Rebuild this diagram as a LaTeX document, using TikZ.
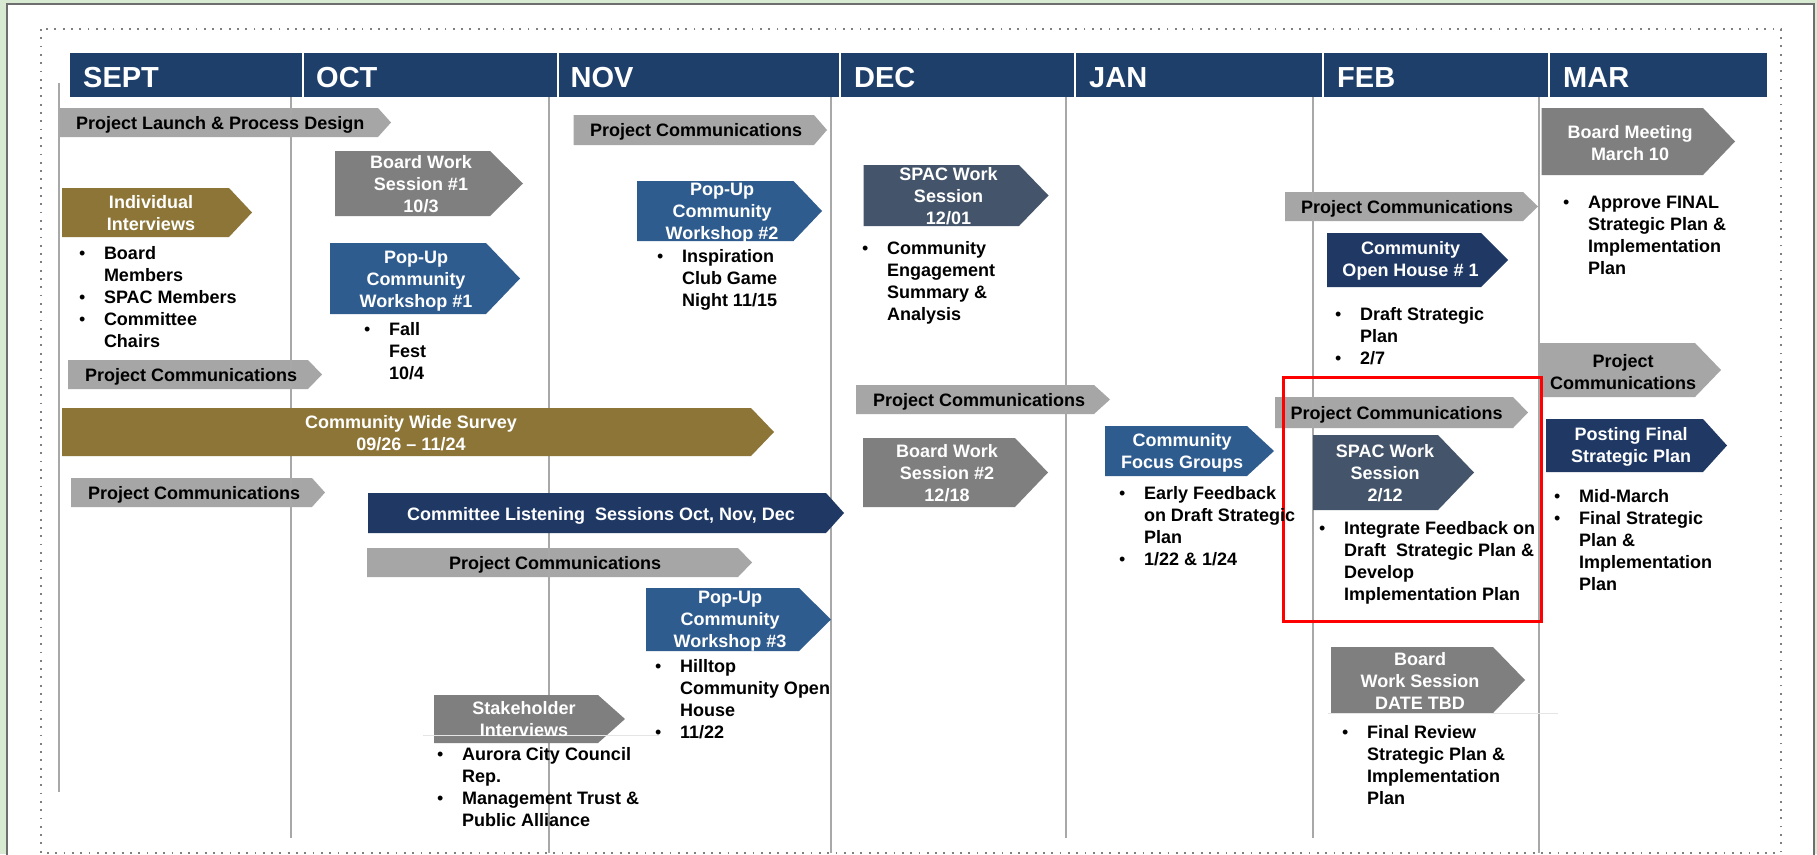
\documentclass[tikz,border=0pt]{standalone}
\usepackage{fontspec}
\setmainfont{Liberation Sans}
\usepackage{array}
\usepackage{color}
\definecolor{hdrblue}{HTML}{1F3F6B}
\definecolor{pcgray}{HTML}{A6A6A6}
\definecolor{bdgray}{HTML}{7F7F7F}
\definecolor{gold}{HTML}{8C7537}
\definecolor{popblue}{HTML}{2F5C8F}
\definecolor{navy}{HTML}{1F3864}
\definecolor{slate}{HTML}{44546A}
\definecolor{rulegray}{HTML}{A8A8A8}
\definecolor{framegreen}{HTML}{D9EAD3}
\definecolor{framegray}{HTML}{6E6E6E}
\definecolor{dotgray}{HTML}{808080}

\begin{document}
\begin{tikzpicture}
	[x=1pt,y=-1pt,
	lbl/.style={font=\fontsize{18}{22}\selectfont\bfseries,inner sep=0pt},
	tag/.style={lbl,anchor=base west},
	boxtext/.style={lbl,text=white,align=center},
	notes/.style={lbl,anchor=north west},
	month/.style={font=\fontsize{29}{34}\selectfont\bfseries,text=white,anchor=base west,inner sep=0pt},
	divider/.style={draw=rulegray,line width=1.5pt}]
	% page, frame and dotted border
	\useasboundingbox (0,0) rectangle (1817,854);
	\fill[framegreen] (0,0) rectangle (1817,854);
	\filldraw[fill=white,draw=framegray,line width=1.5pt] (7,4) rectangle (1814,880);
	\draw[dotgray,line width=1.8pt,dash pattern=on 1.8pt off 6.5pt] (41,29) rectangle (1781,853);

	% project communications bars (the month lines run over them)
	\fill[pcgray] (58.5,108) -- (378,108) -- (391,122.5) -- (378,137) -- (58.5,137) -- cycle;
	\fill[pcgray] (68,360) -- (308,360) -- (322,374.5) -- (308,389) -- (68,389) -- cycle;
	\fill[pcgray] (71,478) -- (312,478) -- (325,492.5) -- (312,507) -- (71,507) -- cycle;
	\fill[pcgray] (367,548) -- (738,548) -- (752,562.5) -- (738,577) -- (367,577) -- cycle;
	\fill[pcgray] (573.5,115) -- (814,115) -- (827,130) -- (814,145) -- (573.5,145) -- cycle;
	\fill[pcgray] (856,385) -- (1094,385) -- (1110,399.5) -- (1094,414) -- (856,414) -- cycle;
	\fill[pcgray] (1285,192) -- (1523,192) -- (1538,206.5) -- (1523,221) -- (1285,221) -- cycle;
	\fill[pcgray] (1275,397) -- (1513,397) -- (1528,412.5) -- (1513,428) -- (1275,428) -- cycle;
	\fill[pcgray] (1538,343) -- (1695,343) -- (1721,370) -- (1695,397) -- (1538,397) -- cycle;

	% month lines
	\draw[divider] (59,83) -- (59,792);
	\draw[divider] (291,83) -- (291,838);
	\draw[divider] (549,77) -- (549,853);
	\draw[divider] (831,83) -- (831,853);
	\draw[divider] (1066,80) -- (1066,838);
	\draw[divider] (1313,83) -- (1313,838);
	\draw[divider] (1539,80) -- (1539,853);

	% month header
	\fill[hdrblue] (70,53) rectangle (302,97);
	\fill[hdrblue] (304,53) rectangle (556.5,97);
	\fill[hdrblue] (558.5,53) rectangle (839,97);
	\fill[hdrblue] (841,53) rectangle (1074,97);
	\fill[hdrblue] (1076,53) rectangle (1322,97);
	\fill[hdrblue] (1324,53) rectangle (1548,97);
	\fill[hdrblue] (1550,53) rectangle (1767,97);
	\node[month] (sept) at (83,87) {SEPT};
	\node[month] (oct) at (316,87) {OCT};
	\node[month] (nov) at (570.5,87) {NOV};
	\node[month] (dec) at (854,87) {DEC};
	\node[month] (jan) at (1089,87) {JAN};
	\node[month] (feb) at (1337,87) {FEB};
	\node[month] (mar) at (1563,87) {MAR};

	% event boxes
	\fill[gold] (62,188) -- (229,188) -- (252,212.5) -- (229,237) -- (62,237) -- cycle;
	\fill[gold] (62,408) -- (751,408) -- (774,432) -- (751,456) -- (62,456) -- cycle;
	\fill[bdgray] (335,151) -- (490,151) -- (523,183.5) -- (490,216) -- (335,216) -- cycle;
	\fill[bdgray] (863,438) -- (1015,438) -- (1048,472.5) -- (1015,507) -- (863,507) -- cycle;
	\fill[bdgray] (434,695) -- (598,695) -- (625,719) -- (598,743) -- (434,743) -- cycle;
	\fill[bdgray] (1541.5,108) -- (1703,108) -- (1735,141.5) -- (1703,175) -- (1541.5,175) -- cycle;
	\fill[bdgray] (1331,647) -- (1493,647) -- (1525,680) -- (1493,713) -- (1331,713) -- cycle;
	\fill[popblue] (330,243) -- (486,243) -- (520,278.5) -- (486,314) -- (330,314) -- cycle;
	\fill[popblue] (637,181) -- (793.5,181) -- (822,211) -- (793.5,241) -- (637,241) -- cycle;
	\fill[popblue] (646,588) -- (799,588) -- (831,619.5) -- (799,651) -- (646,651) -- cycle;
	\fill[popblue] (1105,426) -- (1247,426) -- (1274,451) -- (1247,476) -- (1105,476) -- cycle;
	\fill[navy] (368,493) -- (826,493) -- (844,513) -- (826,533) -- (368,533) -- cycle;
	\fill[navy] (1327,233) -- (1481,233) -- (1508,260) -- (1481,287) -- (1327,287) -- cycle;
	\fill[navy] (1546,419) -- (1703,419) -- (1727,445.5) -- (1703,472) -- (1546,472) -- cycle;
	\fill[slate] (863.5,165) -- (1019,165) -- (1048.5,195.5) -- (1019,226) -- (863.5,226) -- cycle;
	\fill[slate] (1313,435) -- (1438,435) -- (1474,472.5) -- (1438,510) -- (1313,510) -- cycle;

	% faint rules under two boxes
	\draw[gray!20,line width=0.8pt] (423,735) -- (659,735);
	\draw[gray!20,line width=0.8pt] (1328,713) -- (1558,713);

	% highlight
	\draw[red,line width=3pt] (1283,377) rectangle (1541.5,621);

	% labels of the bars
	\node[tag] (launch) at (76,129) {Project Launch \& Process Design};
	\node[tag] (comm1) at (85,381) {Project Communications};
	\node[tag] (comm2) at (88,499) {Project Communications};
	\node[tag] (comm3) at (449,569) {Project Communications};
	\node[tag] (comm4) at (590,136.5) {Project Communications};
	\node[tag] (comm5) at (873,406) {Project Communications};
	\node[tag] (comm6) at (1301,213) {Project Communications};
	\node[tag] (comm7) at (1290.5,419) {Project Communications};
	\node[lbl,align=center] (comm8) at (1623,372) {Project\\Communications};

	% labels of the boxes
	\node[boxtext] (interviews) at (151,213) {Individual\\Interviews};
	\node[boxtext] (survey) at (411,433) {Community Wide Survey\\09/26 \textendash{} 11/24};
	\node[boxtext] (board1) at (421,184) {Board Work\\Session \#1\\10/3};
	\node[boxtext] (board2) at (947,473) {Board Work\\Session \#2\\12/18};
	\node[boxtext] (stake) at (524,719) {Stakeholder\\Interviews};
	\node[boxtext] (meeting) at (1630,143) {Board Meeting\\March 10};
	\node[boxtext] (board3) at (1420,681) {Board\\Work Session\\DATE TBD};
	\node[boxtext] (popup1) at (416,281) {Pop-Up\\Community\\Workshop \#1};
	\node[boxtext] (popup2) at (722,213) {Pop-Up\\Community\\Workshop \#2};
	\node[boxtext] (popup3) at (730,621) {Pop-Up\\Community\\Workshop \#3};
	\node[boxtext] (focus) at (1182,453) {Community\\Focus Groups};
	\node[boxtext,anchor=base] (listen) at (601,520) {Committee Listening\ \ Sessions Oct, Nov, Dec};
	\node[boxtext] (openhouse) at (1410.5,261) {Community\\Open House \# 1};
	\node[boxtext] (posting) at (1631,447) {Posting Final\\Strategic Plan};
	\node[boxtext] (spac1) at (948.5,196) {SPAC Work\\Session\\12/01};
	\node[boxtext] (spac2) at (1385,473) {SPAC Work\\Session\\2/12};

	% bullet notes
	\node[notes] (who) at (79,244) {\begin{tabular}{@{}>{\mdseries}l@{\hspace{18.5pt}}l@{}}
		\textbullet & Board\\ & Members\\ \textbullet & SPAC Members\\ \textbullet & Committee\\ & Chairs\end{tabular}};
	\node[notes] (fest) at (364,320) {\begin{tabular}{@{}>{\mdseries}l@{\hspace{18.5pt}}l@{}}
		\textbullet & Fall\\ & Fest\\ & 10/4\end{tabular}};
	\node[notes] (club) at (657,247) {\begin{tabular}{@{}>{\mdseries}l@{\hspace{18.5pt}}l@{}}
		\textbullet & Inspiration\\ & Club Game\\ & Night 11/15\end{tabular}};
	\node[notes] (summary) at (862,239) {\begin{tabular}{@{}>{\mdseries}l@{\hspace{18.5pt}}l@{}}
		\textbullet & Community\\ & Engagement\\ & Summary \&\\ & Analysis\end{tabular}};
	\node[notes] (early) at (1119,484) {\begin{tabular}{@{}>{\mdseries}l@{\hspace{18.5pt}}l@{}}
		\textbullet & Early Feedback\\ & on Draft Strategic\\ & Plan\\ \textbullet & 1/22 \& 1/24\end{tabular}};
	\node[notes] (hilltop) at (655,657) {\begin{tabular}{@{}>{\mdseries}l@{\hspace{18.5pt}}l@{}}
		\textbullet & Hilltop\\ & Community Open\\ & House\\ \textbullet & 11/22\end{tabular}};
	\node[notes] (aurora) at (437,745) {\begin{tabular}{@{}>{\mdseries}l@{\hspace{18.5pt}}l@{}}
		\textbullet & Aurora City Council\\ & Rep.\\ \textbullet & Management Trust \&\\ & Public Alliance\end{tabular}};
	\node[notes] (approve) at (1563,193) {\begin{tabular}{@{}>{\mdseries}l@{\hspace{18.5pt}}l@{}}
		\textbullet & Approve FINAL\\ & Strategic Plan \&\\ & Implementation\\ & Plan\end{tabular}};
	\node[notes] (draft) at (1335,305) {\begin{tabular}{@{}>{\mdseries}l@{\hspace{18.5pt}}l@{}}
		\textbullet & Draft Strategic\\ & Plan\\ \textbullet & 2/7\end{tabular}};
	\node[notes] (integrate) at (1319,519) {\begin{tabular}{@{}>{\mdseries}l@{\hspace{18.5pt}}l@{}}
		\textbullet & Integrate Feedback on\\ & Draft\ \ Strategic Plan \&\\ & Develop\\ & Implementation Plan\end{tabular}};
	\node[notes] (midmarch) at (1554,487) {\begin{tabular}{@{}>{\mdseries}l@{\hspace{18.5pt}}l@{}}
		\textbullet & Mid-March\\ \textbullet & Final Strategic\\ & Plan \&\\ & Implementation\\ & Plan\end{tabular}};
	\node[notes] (review) at (1342,723) {\begin{tabular}{@{}>{\mdseries}l@{\hspace{18.5pt}}l@{}}
		\textbullet & Final Review\\ & Strategic Plan \&\\ & Implementation\\ & Plan\end{tabular}};
\end{tikzpicture}
\end{document}
